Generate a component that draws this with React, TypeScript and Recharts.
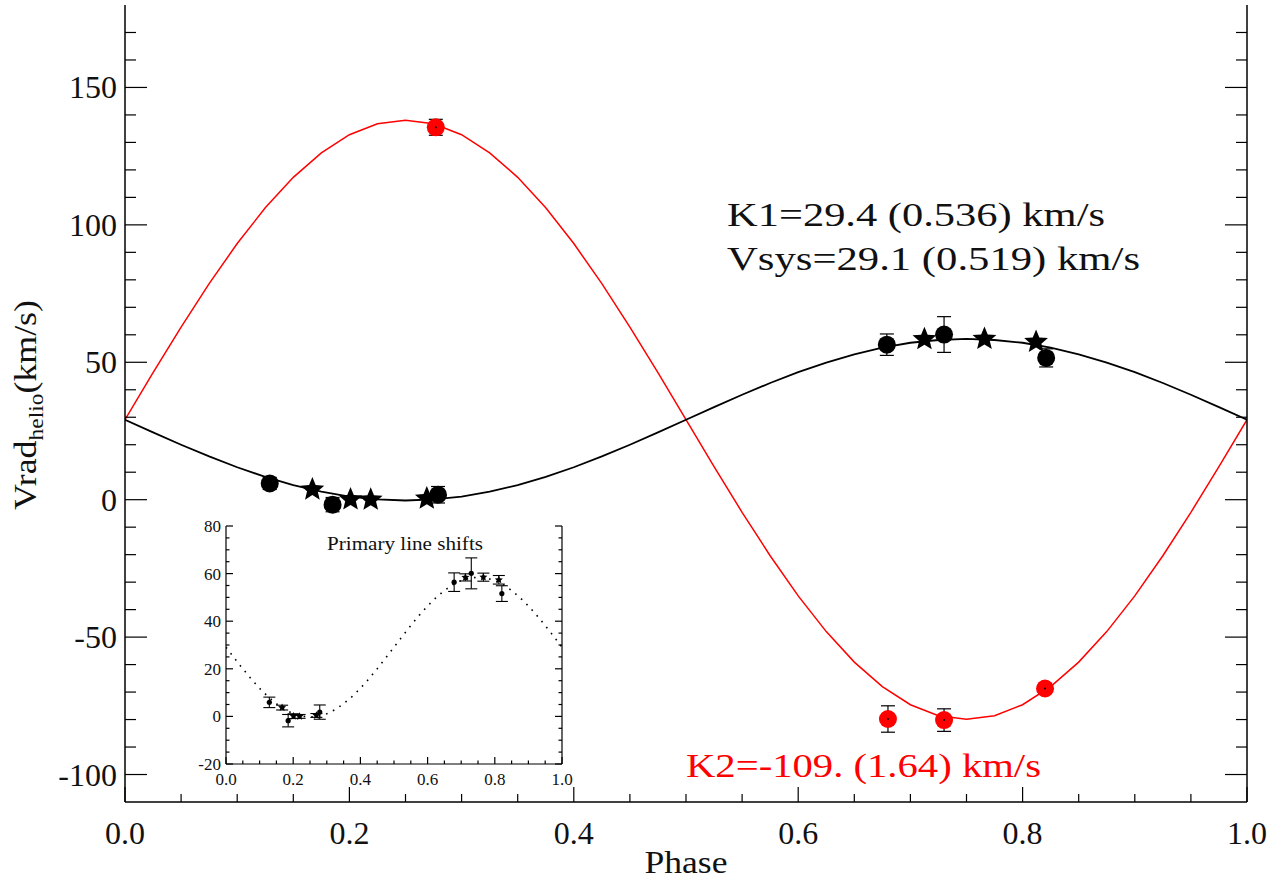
import React from 'react';
import { ComposedChart, Line, Scatter, XAxis, YAxis, ErrorBar } from 'recharts';

// ---------- data ----------
const fitPhase = [0, 0.025, 0.05, 0.075, 0.1, 0.125, 0.15, 0.175, 0.2, 0.225, 0.25, 0.275, 0.3, 0.325, 0.35, 0.375, 0.4, 0.425, 0.45, 0.475, 0.5, 0.525, 0.55, 0.575, 0.6, 0.625, 0.65, 0.675, 0.7, 0.725, 0.75, 0.775, 0.8, 0.825, 0.85, 0.875, 0.9, 0.925, 0.95, 0.975, 1.0];
const primaryFit = [29.1, 24.5, 20.0, 15.75, 11.8, 8.3, 5.3, 2.9, 1.1, 0.1, -0.3, 0.1, 1.1, 2.9, 5.3, 8.3, 11.8, 15.75, 20.0, 24.5, 29.1, 33.7, 38.2, 42.45, 46.4, 49.9, 52.9, 55.3, 57.1, 58.1, 58.5, 58.1, 57.1, 55.3, 52.9, 49.9, 46.4, 42.45, 38.2, 33.7, 29.1];
const secondaryFit = [29.1, 46.2, 62.8, 78.6, 93.2, 106.2, 117.3, 126.2, 132.8, 136.8, 138.1, 136.8, 132.8, 126.2, 117.3, 106.2, 93.2, 78.6, 62.8, 46.2, 29.1, 12.0, -4.6, -20.4, -35.0, -48.0, -59.1, -68.0, -74.6, -78.6, -79.9, -78.6, -74.6, -68.0, -59.1, -48.0, -35.0, -20.4, -4.6, 12.0, 29.1];

const circlePhase = [0.129, 0.185, 0.279, 0.679, 0.730, 0.821];
const circleVrad = [5.9, -1.8, 1.8, 56.4, 60.1, 51.6];
const circleErr = [2.2, 2.6, 3.0, 3.9, 6.5, 3.3];

const starPhase = [0.167, 0.201, 0.219, 0.269, 0.7125, 0.766, 0.812];
const starVrad = [3.7, 0.1, 0.0, 0.4, 58.4, 58.5, 57.4];
const starErr = [1.0, 1.0, 0.8, 0.8, 1.5, 1.7, 1.8];

const secPhase = [0.277, 0.680, 0.730, 0.820];
const secVrad = [135.5, -79.8, -80.2, -68.7];
const secErr = [2.9, 4.8, 4.1, 1.5];

const phaseTicks = [0, 0.05, 0.1, 0.15, 0.2, 0.25, 0.3, 0.35, 0.4, 0.45, 0.5, 0.55, 0.6, 0.65, 0.7, 0.75, 0.8, 0.85, 0.9, 0.95, 1.0];
const phaseMajor = [0, 0.2, 0.4, 0.6, 0.8, 1.0];
const phaseLabels = ['0.0', '0.2', '0.4', '0.6', '0.8', '1.0'];
const vradTicks = [-100, -90, -80, -70, -60, -50, -40, -30, -20, -10, 0, 10, 20, 30, 40, 50, 60, 70, 80, 90, 100, 110, 120, 130, 140, 150, 160, 170];
const vradMajor = [-100, -50, 0, 50, 100, 150];
const vradLabels = ['-100', '-50', '0', '50', '100', '150'];
const insetTicks = [-20, -15, -10, -5, 0, 5, 10, 15, 20, 25, 30, 35, 40, 45, 50, 55, 60, 65, 70, 75, 80];
const insetMajor = [-20, 0, 20, 40, 60, 80];
const insetLabels = ['-20', '0', '20', '40', '60', '80'];

// ---------- derived tables ----------
const fitData1 = fitPhase.map((p, i) => ({ phase: p, v: primaryFit[i] }));
const fitData2 = fitPhase.map((p, i) => ({ phase: p, v: secondaryFit[i] }));
const circleData = circlePhase.map((p, i) => ({ phase: p, v: circleVrad[i], err: circleErr[i] }));
const starData = starPhase.map((p, i) => ({ phase: p, v: starVrad[i], err: starErr[i] }));
const secData = secPhase.map((p, i) => ({ phase: p, v: secVrad[i], err: secErr[i] }));

const FONT = 'Liberation Serif';

const majorIndex = (majors: number[], v: number) => majors.findIndex((m) => Math.abs(m - v) < 1e-6);

type Side = 'bottom' | 'top' | 'left' | 'right';
const makeTick = (side: Side, majors: number[], labels: string[] | null, majorLen: number, minorLen: number, fontSize: number, offset: number, dy: number) => (props: any) => {
  const { x, y, payload } = props;
  const idx = majorIndex(majors, payload.value);
  const len = idx >= 0 ? majorLen : minorLen;
  let line;
  if (side === 'bottom') line = <line x1={x} x2={x} y1={y} y2={y - len} stroke="#000" strokeWidth={1.2} />;
  else if (side === 'top') line = <line x1={x} x2={x} y1={y} y2={y + len} stroke="#000" strokeWidth={1.2} />;
  else if (side === 'left') line = <line x1={x} x2={x + len} y1={y} y2={y} stroke="#000" strokeWidth={1.2} />;
  else line = <line x1={x} x2={x - len} y1={y} y2={y} stroke="#000" strokeWidth={1.2} />;
  let label = null;
  if (labels && idx >= 0) {
    if (side === 'bottom')
      label = <text x={x} y={y + offset} textAnchor="middle" fontSize={fontSize} style={{ fontFamily: FONT }} fill="#111">{labels[idx]}</text>;
    else if (side === 'left')
      label = <text x={x - offset} y={y + dy} textAnchor="end" fontSize={fontSize} style={{ fontFamily: FONT }} fill="#111">{labels[idx]}</text>;
  }
  return <g>{line}{label}</g>;
};

const starPoints = (cx: number, cy: number, R: number, r: number) => {
  const pts: string[] = [];
  for (let k = 0; k < 10; k++) {
    const a = -Math.PI / 2 + (k * Math.PI) / 5;
    const rad = k % 2 === 0 ? R : r;
    pts.push(`${cx + rad * Math.cos(a)},${cy + rad * Math.sin(a)}`);
  }
  return pts.join(' ');
};

const BigCircle = (color: string) => (p: any) => <circle cx={p.cx} cy={p.cy} r={9} fill={color} />;
const BigStar = (p: any) => <polygon points={starPoints(p.cx, p.cy, 12.5, 5.6)} fill="#000" />;
const CenterDot = (p: any) => <circle cx={p.cx} cy={p.cy} r={1} fill="#000" />;
const SmallCircle = (p: any) => <circle cx={p.cx} cy={p.cy} r={2.6} fill="#000" />;
const SmallStar = (p: any) => <polygon points={starPoints(p.cx, p.cy, 4.2, 2.0)} fill="#000" />;

function MainChart() {
  return (
    <ComposedChart width={1279} height={881} margin={{ top: 5, right: 0, bottom: 0, left: 0 }}>
      <XAxis xAxisId={0} dataKey="phase" type="number" domain={[0, 1]} ticks={phaseTicks} interval={0}
        orientation="bottom" height={79} tickSize={0} tickMargin={0} tickLine={false}
        axisLine={{ stroke: '#000', strokeWidth: 1.5 }} allowDataOverflow
        tick={makeTick('bottom', phaseMajor, phaseLabels, 15, 8, 32, 42, 0)} />
      <XAxis xAxisId="top" dataKey="phase" type="number" domain={[0, 1]} ticks={phaseTicks} interval={0}
        orientation="top" height={0} tickSize={0} tickMargin={0} tickLine={false}
        axisLine={{ stroke: '#000', strokeWidth: 1.5 }} allowDataOverflow
        tick={makeTick('top', phaseMajor, null, 15, 8, 32, 0, 0)} />
      <YAxis yAxisId={0} type="number" domain={[-110, 180]} ticks={vradTicks} interval={0}
        orientation="left" width={125} tickSize={0} tickMargin={0} tickLine={false}
        axisLine={{ stroke: '#000', strokeWidth: 1.5 }} allowDataOverflow
        tick={makeTick('left', vradMajor, vradLabels, 22, 11, 32, 8, 11)} />
      <YAxis yAxisId="right" type="number" domain={[-110, 180]} ticks={vradTicks} interval={0}
        orientation="right" width={32} tickSize={0} tickMargin={0} tickLine={false}
        axisLine={{ stroke: '#000', strokeWidth: 1.5 }} allowDataOverflow
        tick={makeTick('right', vradMajor, null, 22, 11, 32, 0, 0)} />
      <Line data={fitData2} dataKey="v" type="linear" stroke="#ff0000" strokeWidth={1.5} dot={false} isAnimationActive={false} />
      <Line data={fitData1} dataKey="v" type="linear" stroke="#000" strokeWidth={1.8} dot={false} isAnimationActive={false} />
      <Scatter data={circleData} dataKey="v" shape={BigCircle('#000')} isAnimationActive={false}>
        <ErrorBar dataKey="err" direction="y" width={7} stroke="#000" strokeWidth={1.2} />
      </Scatter>
      <Scatter data={starData} dataKey="v" shape={BigStar} isAnimationActive={false} />
      <Scatter data={secData} dataKey="v" shape={BigCircle('#ff0000')} isAnimationActive={false} />
      <Scatter data={secData} dataKey="v" shape={CenterDot} isAnimationActive={false}>
        <ErrorBar dataKey="err" direction="y" width={7} stroke="#000" strokeWidth={1.2} />
      </Scatter>
    </ComposedChart>
  );
}

function InsetChart() {
  return (
    <ComposedChart width={440} height={310} margin={{ top: 26, right: 0, bottom: 0, left: 0 }}>
      <XAxis xAxisId={0} dataKey="phase" type="number" domain={[0, 1]} ticks={phaseTicks} interval={0}
        orientation="bottom" height={46} tickSize={0} tickMargin={0} tickLine={false}
        axisLine={{ stroke: '#000', strokeWidth: 1.2 }} allowDataOverflow
        tick={makeTick('bottom', phaseMajor, phaseLabels, 7, 3.5, 17, 21, 0)} />
      <XAxis xAxisId="top" dataKey="phase" type="number" domain={[0, 1]} ticks={phaseTicks} interval={0}
        orientation="top" height={0} tickSize={0} tickMargin={0} tickLine={false}
        axisLine={{ stroke: '#000', strokeWidth: 1.2 }} allowDataOverflow
        tick={makeTick('top', phaseMajor, null, 7, 3.5, 17, 0, 0)} />
      <YAxis yAxisId={0} type="number" domain={[-20, 80]} ticks={insetTicks} interval={0}
        orientation="left" width={86} tickSize={0} tickMargin={0} tickLine={false}
        axisLine={{ stroke: '#000', strokeWidth: 1.2 }} allowDataOverflow
        tick={makeTick('left', insetMajor, insetLabels, 7, 3.5, 17, 5, 6)} />
      <YAxis yAxisId="right" type="number" domain={[-20, 80]} ticks={insetTicks} interval={0}
        orientation="right" width={18} tickSize={0} tickMargin={0} tickLine={false}
        axisLine={{ stroke: '#000', strokeWidth: 1.2 }} allowDataOverflow
        tick={makeTick('right', insetMajor, null, 7, 3.5, 17, 0, 0)} />
      <Line data={fitData1} dataKey="v" type="linear" stroke="#000" strokeWidth={1.6} strokeDasharray="1.6 6" dot={false} isAnimationActive={false} />
      <Scatter data={circleData} dataKey="v" shape={SmallCircle} isAnimationActive={false}>
        <ErrorBar dataKey="err" direction="y" width={6} stroke="#000" strokeWidth={1.1} />
      </Scatter>
      <Scatter data={starData} dataKey="v" shape={SmallStar} isAnimationActive={false}>
        <ErrorBar dataKey="err" direction="y" width={6} stroke="#000" strokeWidth={1.1} />
      </Scatter>
    </ComposedChart>
  );
}

export default function App() {
  return (
    <div style={{ position: 'absolute', left: 0, top: 0, width: 1279, height: 881, background: '#fff', overflow: 'hidden' }}>
      <div style={{ position: 'absolute', left: 0, top: 0 }}>
        <MainChart />
      </div>
      <div style={{ position: 'absolute', left: 140, top: 500 }}>
        <InsetChart />
      </div>
      <svg width={1279} height={881} style={{ position: 'absolute', left: 0, top: 0, pointerEvents: 'none', fontFamily: FONT }}>
        <text x={727} y={226} fontSize={34} fill="#111" textLength={378} lengthAdjust="spacingAndGlyphs">K1=29.4 (0.536) km/s</text>
        <text x={727} y={270} fontSize={34} fill="#111" textLength={413} lengthAdjust="spacingAndGlyphs">Vsys=29.1 (0.519) km/s</text>
        <text x={686} y={777} fontSize={34} fill="#ff0000" textLength={355} lengthAdjust="spacingAndGlyphs">K2=-109. (1.64) km/s</text>
        <text x={686} y={873} fontSize={32} fill="#111" textAnchor="middle" textLength={83} lengthAdjust="spacingAndGlyphs">Phase</text>
        <text x={405} y={550} fontSize={18} fill="#111" textAnchor="middle" textLength={156} lengthAdjust="spacingAndGlyphs">Primary line shifts</text>
        <text transform="translate(36,405) rotate(-90)" fontSize={32} fill="#111" textAnchor="middle" textLength={210} lengthAdjust="spacingAndGlyphs">
          <tspan>Vrad</tspan>
          <tspan fontSize={21} dy={7}>helio</tspan>
          <tspan dy={-7}>(km/s)</tspan>
        </text>
      </svg>
    </div>
  );
}
